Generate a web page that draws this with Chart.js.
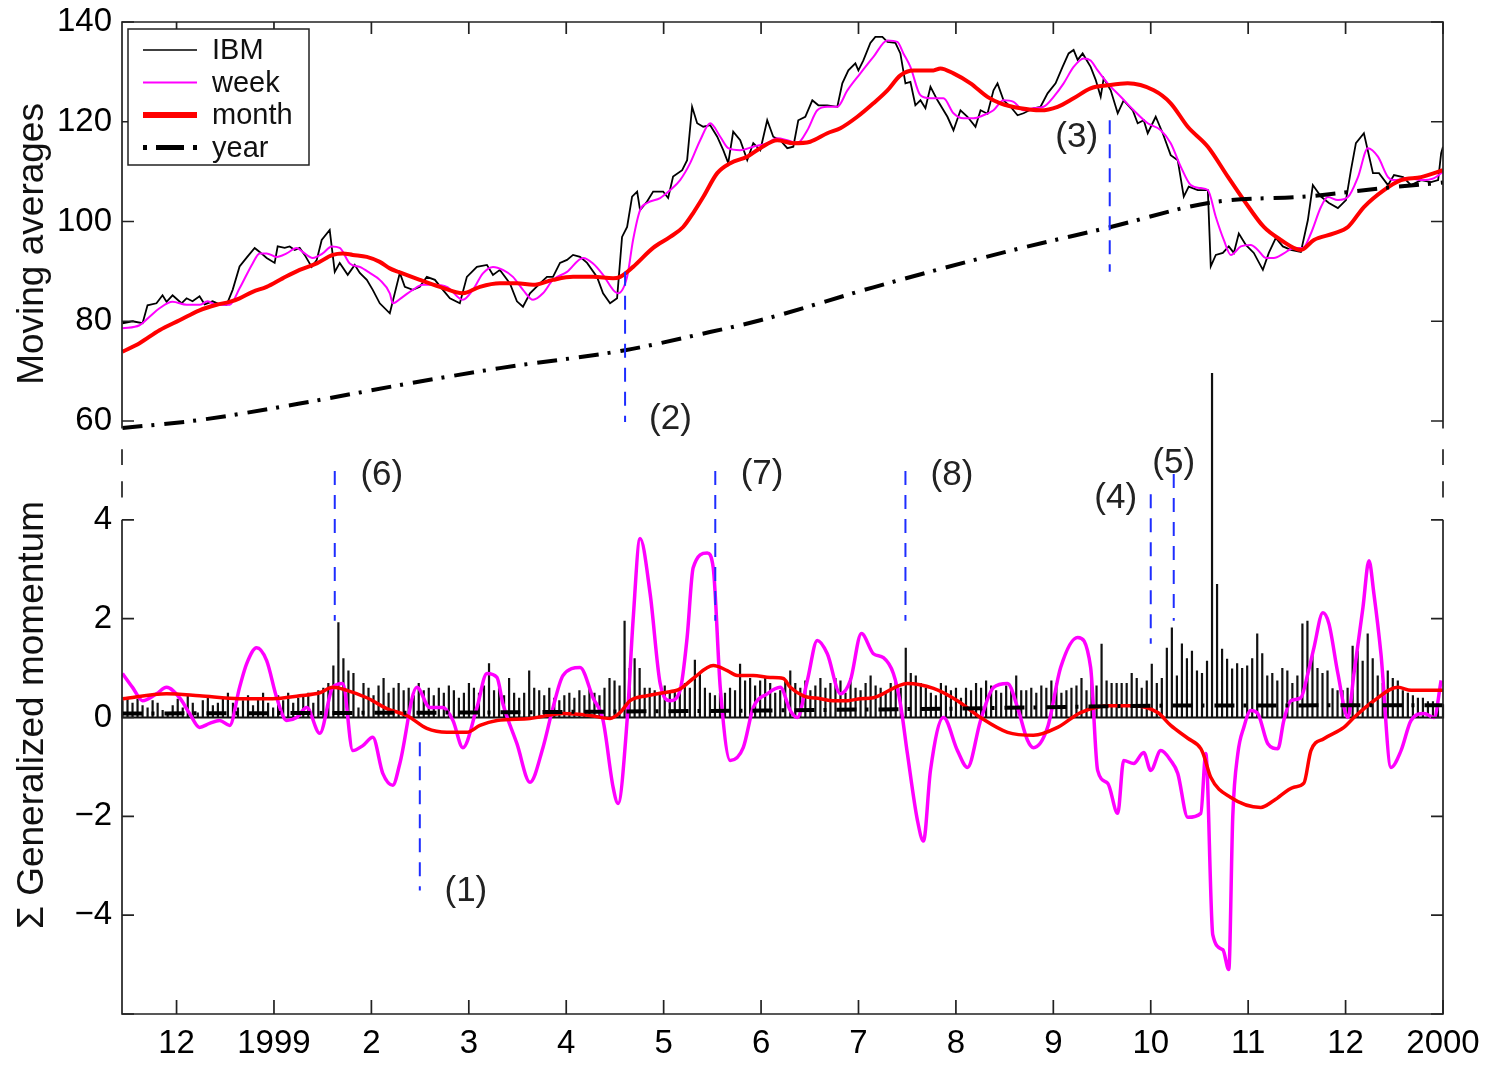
<!DOCTYPE html>
<html><head><meta charset="utf-8">
<script src="https://cdn.jsdelivr.net/npm/chart.js@4.4.1/dist/chart.umd.min.js"></script>
<style>html,body{margin:0;padding:0;background:#fff;overflow:hidden}#wrap{position:relative;width:1493px;height:1067px}</style>
</head><body><div id="wrap"><canvas id="c"></canvas></div>
<script>
// ---------- data (x in months, 0 = Dec 1998, 13 = Jan 2000) ----------
const monthTickValues = [0,1,2,3,4,5,6,7,8,9,10,11,12,13];
const monthLabels = ['12','1999','2','3','4','5','6','7','8','9','10','11','12','2000'];
const topTicks = [60,80,100,120,140];
const botTicks = [-6,-4,-2,0,2,4,6];

const ibmX = [-0.555,-0.452,-0.349,-0.298,-0.206,-0.144,-0.103,-0.041,0.051,0.103,
0.164,0.236,0.288,0.370,0.442,0.514,0.576,0.647,0.730,0.802,
0.853,0.925,1.007,1.038,1.110,1.161,1.213,1.264,1.315,1.387,
1.439,1.490,1.572,1.624,1.675,1.757,1.829,1.881,1.953,2.014,
2.086,2.189,2.292,2.343,2.425,2.497,2.569,2.652,2.734,2.806,
2.908,2.980,3.083,3.186,3.248,3.319,3.422,3.494,3.556,3.628,
3.731,3.802,3.864,3.936,4.008,4.070,4.142,4.214,4.316,4.378,
4.450,4.522,4.573,4.625,4.676,4.728,4.758,4.830,4.892,4.995,
5.046,5.097,5.190,5.241,5.292,5.344,5.406,5.478,5.550,5.612,
5.663,5.714,5.786,5.858,5.920,5.992,6.063,6.125,6.197,6.269,
6.331,6.382,6.454,6.526,6.588,6.680,6.783,6.834,6.896,6.968,
6.999,7.050,7.122,7.173,7.245,7.297,7.379,7.430,7.482,7.533,
7.584,7.636,7.687,7.739,7.811,7.913,7.975,8.047,8.119,8.201,
8.253,8.324,8.386,8.427,8.489,8.561,8.633,8.694,8.797,8.869,
8.941,9.023,9.095,9.157,9.208,9.250,9.301,9.383,9.435,9.486,
9.517,9.589,9.661,9.722,9.815,9.866,9.928,9.969,10.051,10.123,
10.205,10.277,10.339,10.390,10.483,10.586,10.616,10.668,10.740,10.801,
10.853,10.904,10.976,11.058,11.151,11.212,11.284,11.356,11.438,11.541,
11.613,11.664,11.747,11.829,11.921,12.004,12.055,12.106,12.188,12.281,
12.343,12.435,12.497,12.590,12.672,12.775,12.878,12.950,12.981,13.0];
const ibmY = [79.6,80.0,79.6,83.2,83.6,85.2,83.9,85.2,83.6,84.6,
84.0,85.0,83.4,84.0,83.4,83.3,86.3,91.0,93.0,94.7,
93.9,92.7,91.7,95.0,94.7,95.0,94.3,94.7,93.3,90.9,
92.3,96.3,98.3,89.9,91.7,89.3,91.3,89.7,88.3,86.3,
83.6,81.6,89.7,86.9,86.3,86.9,88.9,88.3,86.3,84.6,
83.6,88.9,90.9,91.3,89.3,90.3,87.6,84.0,82.9,85.6,
87.6,88.9,88.9,91.7,92.3,93.3,92.9,91.7,88.9,85.6,
83.6,84.6,96.9,98.9,105.0,106.0,102.3,104.0,106.0,106.0,
104.7,109.0,110.3,112.3,123.0,119.7,119.0,119.3,117.0,114.3,
111.7,118.0,116.3,112.3,115.7,114.3,120.3,117.0,116.3,114.7,
115.0,120.3,121.0,124.3,123.3,123.3,123.0,127.7,130.3,131.7,
130.3,132.3,135.8,137.0,137.0,136.0,135.8,133.7,127.7,128.0,
123.3,124.3,122.7,127.0,124.3,121.0,118.3,122.3,121.0,119.0,
122.3,121.6,126.3,127.7,124.3,123.0,121.3,121.7,122.7,123.0,
125.7,127.7,131.0,133.7,134.4,132.4,133.7,131.0,128.4,125.0,
128.7,126.3,121.7,124.3,122.3,119.7,120.3,117.7,121.0,117.7,
113.3,112.3,105.0,107.0,106.3,106.3,91.0,93.3,93.7,95.0,
93.7,97.6,95.3,93.7,90.3,93.7,96.7,95.0,94.3,93.9,
100.3,107.3,105.0,103.7,102.7,104.3,110.3,115.7,117.7,109.7,
109.7,107.3,109.3,108.9,107.3,108.3,107.9,108.3,113.7,115.0];

const weekX = [-0.555,-0.380,-0.277,-0.175,-0.041,0.103,0.236,0.319,0.411,0.545,
0.647,0.781,0.853,0.925,1.028,1.130,1.233,1.295,1.398,1.500,
1.593,1.675,1.778,1.881,1.983,2.086,2.189,2.220,2.323,2.425,
2.528,2.631,2.775,2.939,3.042,3.145,3.248,3.350,3.453,3.556,
3.659,3.761,3.864,4.008,4.173,4.275,4.378,4.481,4.532,4.625,
4.686,4.758,4.830,4.964,5.067,5.169,5.272,5.375,5.478,5.581,
5.663,5.786,5.920,6.063,6.166,6.269,6.372,6.475,6.577,6.680,
6.783,6.886,7.019,7.153,7.297,7.399,7.461,7.533,7.636,7.739,
7.872,7.975,8.078,8.181,8.283,8.386,8.489,8.592,8.694,8.797,
8.900,9.003,9.106,9.208,9.311,9.383,9.455,9.558,9.692,9.825,
9.969,10.103,10.205,10.308,10.411,10.514,10.586,10.668,10.750,10.822,
10.925,11.027,11.099,11.181,11.264,11.366,11.469,11.561,11.644,11.747,
11.818,11.921,12.024,12.127,12.229,12.332,12.435,12.497,12.641,12.775,
12.909,13.0];
const weekY = [78.6,79.2,80.9,82.6,83.9,83.3,83.3,84.0,83.3,83.3,
86.6,91.6,93.6,93.6,92.9,93.6,94.7,93.9,92.7,93.6,
95.0,94.7,91.6,90.9,89.7,88.3,85.6,83.6,84.9,86.3,
87.3,87.3,86.9,84.3,86.3,89.6,90.9,90.3,88.9,86.3,
84.3,85.6,88.3,89.9,92.7,91.6,89.3,86.3,85.6,88.9,
96.3,102.3,103.7,104.7,106.3,108.3,111.7,116.3,119.7,117.0,
114.7,114.3,115.0,115.7,116.7,116.3,115.7,118.3,122.3,123.0,
123.0,126.3,129.7,133.0,136.3,136.0,133.7,131.0,125.3,124.7,
124.7,121.7,120.7,120.7,121.3,122.3,124.3,124.0,122.3,122.7,
123.0,125.0,127.7,131.0,132.7,132.3,130.3,127.7,125.0,122.3,
119.7,118.3,115.7,111.0,107.3,106.7,106.3,100.9,96.3,93.3,
95.0,95.3,94.3,92.7,92.7,93.6,94.7,94.7,97.6,102.9,
104.9,104.3,104.9,108.9,114.7,113.0,108.9,108.3,108.7,108.3,
108.7,110.0];

const monthX = [-0.555,-0.380,-0.175,0.031,0.236,0.411,0.545,0.647,0.781,0.925,
1.089,1.264,1.439,1.603,1.706,1.809,1.953,2.086,2.189,2.292,
2.497,2.703,2.939,3.114,3.319,3.494,3.659,3.864,4.070,4.275,
4.481,4.553,4.686,4.892,5.067,5.200,5.303,5.406,5.550,5.684,
5.858,5.992,6.166,6.331,6.505,6.680,6.814,6.988,7.153,7.297,
7.430,7.564,7.770,7.841,7.975,8.150,8.324,8.458,8.664,8.869,
9.044,9.208,9.383,9.558,9.763,10.031,10.205,10.380,10.586,10.791,
10.955,11.161,11.336,11.541,11.675,11.880,12.024,12.188,12.394,12.569,
12.775,13.0];
const monthY = [73.9,75.6,78.2,80.2,82.2,83.3,83.9,84.6,85.9,86.9,
88.6,90.3,91.6,93.3,93.6,93.3,92.9,91.9,90.6,89.8,
88.3,86.9,85.6,86.9,87.6,87.6,87.3,88.3,88.9,88.9,
88.6,88.9,90.9,94.7,96.9,98.9,101.7,104.9,109.7,111.7,
113.0,114.7,116.3,115.7,116.0,117.7,118.7,121.0,123.7,126.3,
129.3,130.3,130.3,130.7,129.7,127.7,125.0,123.7,122.7,122.3,
123.0,124.7,126.7,127.3,127.7,126.3,123.7,119.0,115.0,109.0,
104.3,98.9,96.3,94.3,96.3,97.6,98.9,102.9,106.3,108.3,
108.9,110.3];

const yearX = [-0.555,0.236,1.264,2.292,3.319,4.604,5.375,5.992,7.153,8.530,9.589,10.616,11.644,12.435,13.0];
const yearY = [58.6,60.2,63.5,67.2,70.6,74.2,77.4,80.2,86.8,94.0,98.9,103.8,105.1,106.8,107.8];

// ---- bottom panel: generalized momentum ----
const momMonthX = [-0.555,-0.103,0.236,0.647,0.987,1.264,1.470,1.603,1.747,1.953,
2.158,2.364,2.569,2.775,2.980,3.114,3.289,3.628,3.967,4.244,
4.450,4.553,4.656,4.830,4.995,5.169,5.303,5.509,5.653,5.755,
5.920,6.094,6.228,6.300,6.434,6.608,6.742,6.886,7.019,7.153,
7.502,7.770,8.016,8.253,8.530,8.797,9.044,9.280,9.558,9.825,
10.072,10.205,10.380,10.514,10.545,10.616,10.822,11.130,11.264,11.469,
11.572,11.644,11.777,11.983,12.086,12.291,12.538,12.672,13.0];
const momMonthY = [0.38,0.48,0.44,0.38,0.38,0.44,0.50,0.61,0.55,0.40,
0.18,0.04,-0.22,-0.30,-0.30,-0.16,-0.06,-0.02,0.08,0.04,
-0.02,0.10,0.34,0.44,0.50,0.58,0.79,1.05,0.95,0.85,
0.85,0.81,0.79,0.61,0.44,0.38,0.34,0.34,0.38,0.40,
0.69,0.59,0.34,0.00,-0.30,-0.36,-0.20,0.10,0.24,0.24,
0.10,-0.16,-0.42,-0.63,-0.77,-1.21,-1.62,-1.82,-1.68,-1.41,
-1.33,-0.67,-0.43,-0.20,0.00,0.34,0.61,0.55,0.55];

const momWeekX = [-0.555,-0.452,-0.349,-0.206,-0.103,0.031,0.134,0.236,0.339,0.442,
0.545,0.647,0.720,0.822,0.925,1.028,1.130,1.233,1.336,1.470,
1.603,1.706,1.809,1.912,2.014,2.117,2.220,2.292,2.467,2.600,
2.734,2.837,2.939,3.083,3.186,3.289,3.350,3.494,3.628,3.761,
3.864,3.967,4.142,4.275,4.378,4.481,4.532,4.625,4.686,4.758,
4.861,4.964,5.067,5.169,5.241,5.303,5.447,5.509,5.581,5.684,
5.817,5.920,6.063,6.197,6.300,6.372,6.475,6.577,6.680,6.814,
6.917,7.030,7.153,7.256,7.358,7.430,7.502,7.605,7.667,7.739,
7.872,8.016,8.119,8.253,8.386,8.530,8.633,8.735,8.797,8.941,
9.075,9.250,9.383,9.455,9.558,9.661,9.722,9.825,9.928,10.000,
10.103,10.205,10.277,10.380,10.514,10.565,10.637,10.740,10.801,10.842,
10.894,10.955,11.027,11.099,11.202,11.305,11.366,11.438,11.541,11.613,
11.675,11.767,11.829,11.921,12.024,12.086,12.178,12.240,12.291,12.363,
12.466,12.569,12.672,12.806,12.909,12.981];
const momWeekY = [0.89,0.61,0.34,0.48,0.61,0.40,0.08,-0.20,-0.12,-0.06,
-0.16,0.61,1.09,1.41,1.15,0.40,-0.06,0.00,0.20,-0.32,
0.61,0.69,-0.67,-0.57,-0.40,-1.13,-1.37,-0.93,0.61,0.20,
0.20,-0.06,-0.61,0.20,0.89,0.81,0.28,-0.53,-1.31,-0.61,
0.20,0.85,1.01,0.40,-0.06,-1.41,-1.74,-0.06,1.96,3.62,
2.51,0.69,0.34,0.55,1.62,3.03,3.33,3.03,0.61,-0.87,
-0.61,0.20,0.48,0.61,0.14,0.00,0.75,1.56,1.29,0.48,
0.75,1.70,1.29,1.21,0.89,0.28,-0.73,-2.08,-2.50,-1.07,
0.00,-0.67,-1.01,-0.06,0.61,0.69,0.20,-0.46,-0.61,-0.20,
1.01,1.62,1.01,-1.07,-1.33,-1.94,-0.87,-0.93,-0.71,-1.07,
-0.67,-0.87,-1.13,-2.02,-1.94,-0.73,-4.40,-4.70,-5.10,-2.00,
-0.73,-0.20,0.14,0.08,-0.53,-0.63,-0.06,0.34,0.40,0.89,
1.41,2.12,1.90,0.89,0.00,0.89,2.22,3.17,2.50,1.29,
-1.01,-0.67,-0.06,0.08,0.00,0.75];

const momYearX = [-0.555,3.0,6.0,8.0,10.0,13.0];
const momYearY = [0.08,0.10,0.14,0.18,0.24,0.25];

// daily stems (first stem at x = stemStart, last at stemEnd)
const stemStart = -0.555, stemEnd = 13.0;
const stemH = [
0.35,0.40,0.30,0.38,0.25,0.20,0.35,0.30,0.15,0.10,0.25,0.38,0.20,0.45,0.30,0.10,0.35,0.40,0.25,0.30,
0.40,0.50,0.30,0.20,0.35,0.45,0.25,0.40,0.50,0.30,0.20,0.45,0.35,0.50,0.30,0.40,0.45,0.50,0.30,0.55,
0.60,0.70,1.05,1.93,1.20,0.95,0.90,0.20,0.70,0.60,0.45,0.65,0.80,0.50,0.60,0.70,0.55,0.60,0.45,0.70,
0.55,0.60,0.45,0.60,0.50,0.65,0.55,0.40,0.50,0.70,0.60,0.50,0.65,1.10,0.55,0.60,0.45,0.80,0.50,0.40,
0.50,0.95,0.60,0.55,0.45,0.60,0.40,0.35,0.45,0.50,0.40,0.55,0.45,0.60,0.50,0.45,0.60,0.80,0.75,0.65,
1.96,1.00,1.20,1.00,0.60,0.60,0.55,0.50,0.65,0.50,0.55,0.60,0.70,0.60,1.17,0.90,0.60,0.50,0.45,0.50,
0.50,0.60,0.55,1.09,0.75,0.80,0.65,0.75,0.80,0.70,0.50,0.55,0.75,0.95,0.70,0.60,0.75,0.55,0.65,0.80,
0.60,0.70,0.80,0.75,0.50,0.80,0.60,0.55,0.70,0.85,0.65,0.60,0.50,0.70,0.75,0.60,1.41,0.90,0.85,0.70,
0.60,0.50,0.45,0.70,0.65,0.55,0.60,0.40,0.60,0.55,0.70,0.60,0.75,0.65,0.55,0.50,0.65,0.60,0.85,0.55,
0.55,0.60,0.50,0.65,0.60,0.75,0.70,0.50,0.55,0.60,0.65,0.80,0.55,0.75,0.65,1.49,0.75,0.70,0.70,0.70,
0.70,0.90,0.80,0.60,0.75,1.09,0.70,0.80,1.41,1.82,0.85,1.50,1.20,1.35,0.95,0.90,1.15,6.97,2.70,1.39,
1.19,0.99,1.10,1.00,1.05,1.20,1.70,1.30,0.85,0.90,0.75,1.00,0.95,0.70,0.85,1.90,1.96,1.30,1.00,0.90,
0.95,0.59,0.55,0.55,0.60,1.45,1.35,1.15,1.70,1.20,0.85,0.70,0.95,0.80,0.75,0.55,0.50,0.45,0.40,0.40,
0.33,0.33,0.30,0.27];

// annotation markers
const annText = ['(1)','(2)','(3)','(4)','(5)','(6)','(7)','(8)'];
const annAxis = ['yBot','yTop','yTop','yBot','yBot','yBot','yBot','yBot'];
const annX    = [2.497, 4.604, 9.579, 10.000, 10.236, 1.624, 5.530, 7.482];
const annFrom = [-0.50, 89.9, 120.3, 4.52, 4.93, 4.99, 4.99, 4.99];
const annTo   = [-3.50, 59.8, 89.9, 1.49, 1.96, 1.96, 1.96, 1.96];
const annLabelX = [2.97, 5.07, 9.24, 9.64, 10.236, 2.107, 6.01, 7.96];
const annLabelY = [-3.52, 60.4, 116.9, 4.43, 5.14, 4.90, 4.92, 4.90];

// ---------- build chart ----------
const FONT = '"Liberation Sans", Arial, Helvetica, sans-serif';
const pts = (xs, ys) => xs.map((x, i) => ({x, y: ys[i]}));
const stemData = [];
const stemStep = (stemEnd - stemStart) / (stemH.length - 1);
stemH.forEach((h, i) => { const x = stemStart + i * stemStep; stemData.push({x, y: 0}, {x, y: h}, {x, y: 0}); });

const MAGENTA = '#ff00ff', RED = '#ff0000', BLUE = 'rgb(30,45,255)';
const DASHDOT = [20, 9, 3, 10];

const datasets = [
  {label:'IBM', data: pts(ibmX, ibmY), yAxisID:'yTop', borderColor:'#000', borderWidth:1.8, order:6},
  {label:'week', data: pts(weekX, weekY), yAxisID:'yTop', borderColor:MAGENTA, borderWidth:2, order:5, cubicInterpolationMode:'monotone'},
  {label:'month', data: pts(monthX, monthY), yAxisID:'yTop', borderColor:RED, borderWidth:4, order:4, cubicInterpolationMode:'monotone'},
  {label:'year', data: pts(yearX, yearY), yAxisID:'yTop', borderColor:'#000', borderWidth:4, borderDash:DASHDOT, order:3,
    cubicInterpolationMode:'monotone', clip: {left: 0, top: 0, right: 0, bottom: 12}},
  {label:'stems', data: stemData, yAxisID:'yBot', borderColor:'#111', borderWidth:2.2, order:9, clip: false},
  {label:'momWeek', data: pts(momWeekX, momWeekY), yAxisID:'yBot', borderColor:MAGENTA, borderWidth:3.5, order:8, cubicInterpolationMode:'monotone'},
  {label:'momMonth', data: pts(momMonthX, momMonthY), yAxisID:'yBot', borderColor:RED, borderWidth:3.5, order:7, cubicInterpolationMode:'monotone'},
  {label:'momYear', data: pts(momYearX, momYearY), yAxisID:'yBot', borderColor:'#000', borderWidth:4, borderDash:DASHDOT, order:2},
];
annX.forEach((x, i) => {
  datasets.push({label: 'ann' + i, data: [{x, y: annFrom[i]}, {x, y: annTo[i]}], yAxisID: annAxis[i],
    borderColor: BLUE, borderWidth: 2, borderDash: [14, 10], order: 0, clip: false});
});
datasets.forEach(d => { d.xAxisID = 'x'; d.pointRadius = 0; d.fill = false; });

const legendItems = [
  {text:'IBM', color:'#000', width:1.6, dash:[]},
  {text:'week', color:MAGENTA, width:2, dash:[]},
  {text:'month', color:RED, width:6, dash:[]},
  {text:'year', color:'#000', width:5, dash:[4,9,28,9,4]},
];

const framePlugin = {
  id: 'frame',
  afterDraw(chart) {
    const {ctx, chartArea: ca, scales} = chart;
    const x = scales.x, yT = scales.yTop, yB = scales.yBot;
    const L = ca.left, R = ca.right, T = yT.top, B = yB.bottom;
    ctx.save();
    ctx.strokeStyle = '#222'; ctx.lineWidth = 1.7; ctx.setLineDash([]);
    // top box (open at bottom)
    const topEnd = yT.getPixelForValue(58.5);
    ctx.beginPath();
    ctx.moveTo(L, topEnd); ctx.lineTo(L, T); ctx.lineTo(R, T); ctx.lineTo(R, topEnd);
    ctx.stroke();
    // bottom box
    const b4 = yB.getPixelForValue(4);
    ctx.beginPath();
    ctx.moveTo(L, b4); ctx.lineTo(L, B); ctx.lineTo(R, B); ctx.lineTo(R, b4);
    ctx.stroke();
    // dashed joins between panels
    ctx.beginPath();
    for (const [a, b] of [[5.43, 5.11], [4.78, 4.45]]) {
      for (const xx of [L, R]) { ctx.moveTo(xx, yB.getPixelForValue(a)); ctx.lineTo(xx, yB.getPixelForValue(b)); }
    }
    ctx.stroke();
    // tick marks (inward)
    ctx.beginPath();
    for (const v of monthTickValues) {
      const px = x.getPixelForValue(v);
      ctx.moveTo(px, T); ctx.lineTo(px, T + 12);
      ctx.moveTo(px, B); ctx.lineTo(px, B - 14);
    }
    for (const v of topTicks) {
      const py = yT.getPixelForValue(v);
      ctx.moveTo(L, py); ctx.lineTo(L + 12, py);
      ctx.moveTo(R, py); ctx.lineTo(R - 12, py);
    }
    for (const v of botTicks) {
      if (v > 4) continue;
      const py = yB.getPixelForValue(v);
      ctx.moveTo(L, py); ctx.lineTo(L + 12, py);
      ctx.moveTo(R, py); ctx.lineTo(R - 12, py);
    }
    ctx.stroke();

    // axis titles
    ctx.fillStyle = '#111';
    ctx.font = '37px ' + FONT;
    ctx.textAlign = 'center'; ctx.textBaseline = 'alphabetic';
    ctx.save(); ctx.translate(43, yT.getPixelForValue(95.5)); ctx.rotate(-Math.PI / 2);
    ctx.fillText('Moving averages', 0, 0); ctx.restore();
    ctx.save(); ctx.translate(43, yB.getPixelForValue(0.05)); ctx.rotate(-Math.PI / 2);
    ctx.fillText('\u03A3 Generalized momentum', 0, 0); ctx.restore();

    // annotation labels
    ctx.font = '35px ' + FONT;
    ctx.textAlign = 'center'; ctx.textBaseline = 'middle';
    ctx.fillStyle = '#222';
    annText.forEach((t, i) => {
      const sc = scales[annAxis[i]];
      ctx.fillText(t, x.getPixelForValue(annLabelX[i]), sc.getPixelForValue(annLabelY[i]));
    });

    // legend
    const lx = 128, ly = 29, lw = 181, lh = 136;
    ctx.fillStyle = '#fff'; ctx.fillRect(lx, ly, lw, lh);
    ctx.strokeStyle = '#222'; ctx.lineWidth = 1.5; ctx.strokeRect(lx, ly, lw, lh);
    ctx.font = '29px ' + FONT; ctx.textAlign = 'left'; ctx.textBaseline = 'middle'; ctx.fillStyle = '#111';
    legendItems.forEach((it, i) => {
      const yy = ly + 21 + i * 32.5;
      ctx.save();
      ctx.strokeStyle = it.color; ctx.lineWidth = it.width; ctx.setLineDash(it.dash);
      ctx.beginPath(); ctx.moveTo(lx + 15, yy); ctx.lineTo(lx + 69, yy); ctx.stroke();
      ctx.restore();
      ctx.fillText(it.text, lx + 84, yy + 1);
    });
    ctx.restore();
  }
};

const yCommon = {
  type: 'linear', position: 'left', stack: 'panels',
  grid: {display: false, drawTicks: false}, border: {display: false},
  afterFit: s => { s.width = 72; s.paddingTop = 0; s.paddingBottom = 0; }
};

new Chart(document.getElementById('c'), {
  type: 'line',
  data: {datasets},
  options: {
    responsive: true, maintainAspectRatio: false, animation: false,
    layout: {padding: {left: 50, right: 50, top: 22, bottom: 0}},
    plugins: {legend: {display: false}, tooltip: {enabled: false}},
    elements: {point: {radius: 0}, line: {tension: 0}},
    scales: {
      x: {
        type: 'linear', position: 'bottom', min: -0.56, max: 13,
        grid: {display: false, drawTicks: false}, border: {display: false},
        afterBuildTicks: s => { s.ticks = monthTickValues.map(v => ({value: v})); },
        afterFit: s => { s.height = 53; s.paddingLeft = 0; s.paddingRight = 0; },
        ticks: {autoSkip: false, maxRotation: 0, padding: 10, color: '#000',
          font: {family: FONT, size: 33},
          callback: v => monthLabels[monthTickValues.indexOf(Math.round(v))]}
      },
      yBot: Object.assign({}, yCommon, {
        min: -6, max: 6, stackWeight: 593,
        afterBuildTicks: s => { s.ticks = botTicks.map(v => ({value: v})); },
        ticks: {padding: 10, color: '#000', font: {family: FONT, size: 33},
          callback: v => (Math.abs(v) > 5 ? '' : (v < 0 ? '\u2212' + Math.abs(v) : String(v)))}
      }),
      yTop: Object.assign({}, yCommon, {
        min: 60, max: 140, stackWeight: 399,
        afterBuildTicks: s => { s.ticks = topTicks.map(v => ({value: v})); },
        ticks: {padding: 10, color: '#000', font: {family: FONT, size: 33}}
      })
    }
  },
  plugins: [framePlugin]
});
</script>
</body></html>
